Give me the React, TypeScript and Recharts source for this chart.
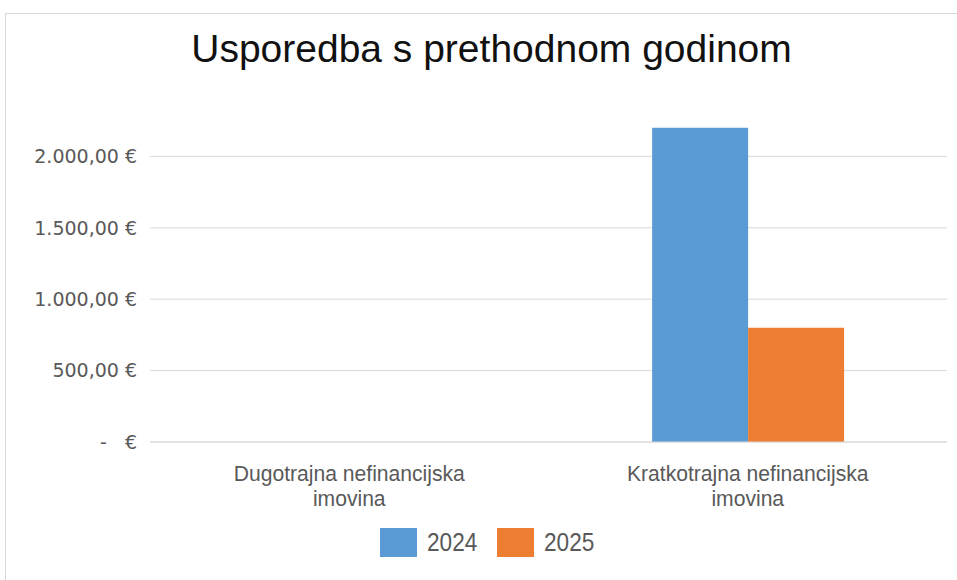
import { BarChart, Bar, XAxis, YAxis, CartesianGrid, Legend } from 'recharts';

const categories = ['Dugotrajna nefinancijska imovina', 'Kratkotrajna nefinancijska imovina'];
const values2024 = [0, 2200];
const values2025 = [0, 800];
const yTicks = [0, 500, 1000, 1500, 2000];
const series = [
  { key: 'y2024', name: '2024', color: '#5B9BD5' },
  { key: 'y2025', name: '2025', color: '#ED7D31' },
];

const data = categories.map((category, i) => ({
  category,
  y2024: values2024[i],
  y2025: values2025[i],
}));

// reference uses a Calibri-like face; Arial squeezed a bit comes close
const labelFont = '"Liberation Sans", Arial, sans-serif';

function formatEuro(v: number) {
  if (v === 0) return '-\u00a0\u00a0\u00a0€';
  const fixed = v.toFixed(2).split('.');
  const intPart = fixed[0].replace(/\B(?=(\d{3})+(?!\d))/g, '.');
  return `${intPart},${fixed[1]} €`;
}

function CategoryTick({ x, y, payload }: any) {
  const text: string = payload.value;
  const words = text.split(' ');
  const line1 = words.slice(0, 2).join(' ');
  const line2 = words.slice(2).join(' ');
  return (
    <g transform={`translate(${x},${y}) scale(0.96,1)`}>
      <text x={0} y={0} textAnchor="middle" fill="#595959" fontFamily={labelFont} fontSize={22}>
        <tspan x={0} dy={31}>{line1}</tspan>
        <tspan x={0} dy={25}>{line2}</tspan>
      </text>
    </g>
  );
}

function LegendContent() {
  return (
    <div style={{ display: 'flex', alignItems: 'center', fontFamily: labelFont, fontSize: 26, color: '#595959' }}>
      {series.map((s) => (
        <div key={s.key} style={{ display: 'flex', alignItems: 'center', flexShrink: 0, width: 117 }}>
          <span style={{ display: 'inline-block', flexShrink: 0, width: 37, height: 29, background: s.color, marginRight: 10 }} />
          <span
            style={{
              display: 'inline-block',
              whiteSpace: 'nowrap',
              transform: 'scaleX(0.87)',
              transformOrigin: 'left center',
              lineHeight: '29px',
            }}
          >
            {s.name}
          </span>
        </div>
      ))}
    </div>
  );
}

export default function App() {
  return (
    <div style={{ position: 'absolute', left: 0, top: 0, width: 957, height: 580, overflow: 'hidden', background: '#fff' }}>
      <div
        style={{
          position: 'absolute',
          left: 5,
          top: 13,
          width: 970,
          height: 600,
          borderLeft: '1px solid #d9d9d9',
          borderTop: '1px solid #d9d9d9',
        }}
      />
      <div
        style={{
          position: 'absolute',
          left: 0,
          top: 27,
          width: 983,
          textAlign: 'center',
          fontFamily: '"Liberation Sans", Arial, sans-serif',
          fontSize: 39,
          color: '#111',
        }}
      >
        Usporedba s prethodnom godinom
      </div>
      <div style={{ position: 'absolute', left: 0, top: 0 }}>
        <BarChart
          width={957}
          height={580}
          data={data}
          margin={{ top: 85, right: 10, left: 0, bottom: 0 }}
          barGap={0}
          barCategoryGap="26%"
        >
          <CartesianGrid vertical={false} stroke="#d9d9d9" horizontalValues={yTicks} />
          <XAxis
            dataKey="category"
            tick={<CategoryTick />}
            tickLine={false}
            axisLine={{ stroke: '#d9d9d9' }}
            height={138}
            interval={0}
          />
          <YAxis
            width={150}
            domain={[0, 2500]}
            ticks={yTicks}
            tickFormatter={formatEuro}
            tickLine={false}
            axisLine={false}
            tickSize={0}
            tickMargin={13}
            tick={{ fill: '#595959', fontSize: 19, fontFamily: '"DejaVu Sans", Verdana, sans-serif' }}
          />
          <Legend
            layout="horizontal"
            verticalAlign="middle"
            align="center"
            content={<LegendContent />}
            wrapperStyle={{ left: 380, top: 528, width: 'auto', height: 'auto' }}
          />
          {series.map((s) => (
            <Bar key={s.key} dataKey={s.key} name={s.name} fill={s.color} isAnimationActive={false} />
          ))}
        </BarChart>
      </div>
    </div>
  );
}
